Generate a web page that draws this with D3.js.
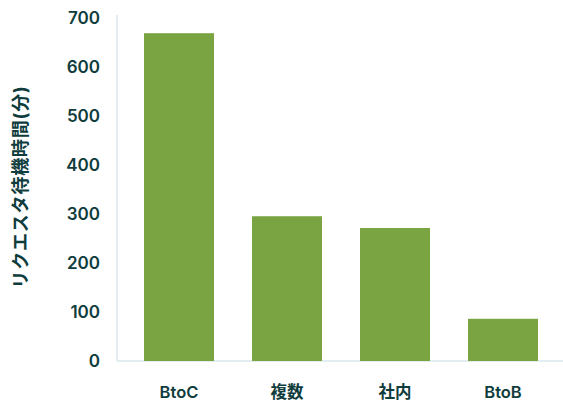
<!DOCTYPE html>
<html><head><meta charset="utf-8">
<script src="https://cdn.jsdelivr.net/npm/d3@7"></script>
<style>body{margin:0;background:#fff}svg{display:block}</style>
</head><body><svg id="c" width="563" height="402"></svg>
<script>
const categories = ["BtoC", "複数", "社内", "BtoB"];
const values = [668, 295, 271, 86];
const yTicks = [0, 100, 200, 300, 400, 500, 600, 700];
const yTitle = "リクエスタ待機時間(分)";

const svg = d3.select("#c");
const textColor = "#0f3c3c";
const font = "Inter, 'Noto Sans CJK JP', sans-serif";
const x0 = 117, x1 = 565, yTop = 17.5, yBase = 361;
const x = d3.scaleBand().domain(categories).range([x0, x1]).paddingInner(0.352).paddingOuter(0.25);
const y = d3.scaleLinear().domain([0, 700]).range([yBase, yTop]);

// axis lines
svg.append("line").attr("x1", x0).attr("x2", 563).attr("y1", yBase).attr("y2", yBase)
  .attr("stroke", "#e4edf2").attr("stroke-width", 2);
svg.append("line").attr("x1", x0).attr("x2", x0).attr("y1", 15).attr("y2", yBase)
  .attr("stroke", "#e4edf2").attr("stroke-width", 2);

svg.selectAll("rect.bar").data(values).join("rect").attr("class", "bar")
  .attr("x", (d, i) => x(categories[i])).attr("width", x.bandwidth())
  .attr("y", d => y(d)).attr("height", d => yBase - y(d)).attr("fill", "#7aa342");

const yAxis = d3.axisLeft(y).tickValues(yTicks).tickSize(0).tickPadding(0);
const gy = svg.append("g").attr("transform", "translate(100,0)").call(yAxis);
gy.select(".domain").remove();
gy.selectAll("text").attr("fill", textColor).attr("font-size", 17).attr("font-weight", 600)
  .attr("font-family", font).attr("dy", "0.35em");

const xAxis = d3.axisBottom(x).tickSize(0).tickPadding(0);
const gx = svg.append("g").attr("transform", "translate(0,392)").call(xAxis);
gx.select(".domain").remove();
gx.selectAll("text").attr("fill", textColor).attr("font-size", 16.5).attr("font-weight", 600)
  .attr("font-family", font).attr("dy", "0.35em");

svg.append("text").attr("transform", "translate(20,187) rotate(-90)")
  .attr("text-anchor", "middle").attr("dominant-baseline", "central")
  .attr("fill", textColor).attr("font-size", 18).attr("font-weight", "bold")
  .attr("letter-spacing", 0.8)
  .attr("font-family", font).text(yTitle);
</script></body></html>
